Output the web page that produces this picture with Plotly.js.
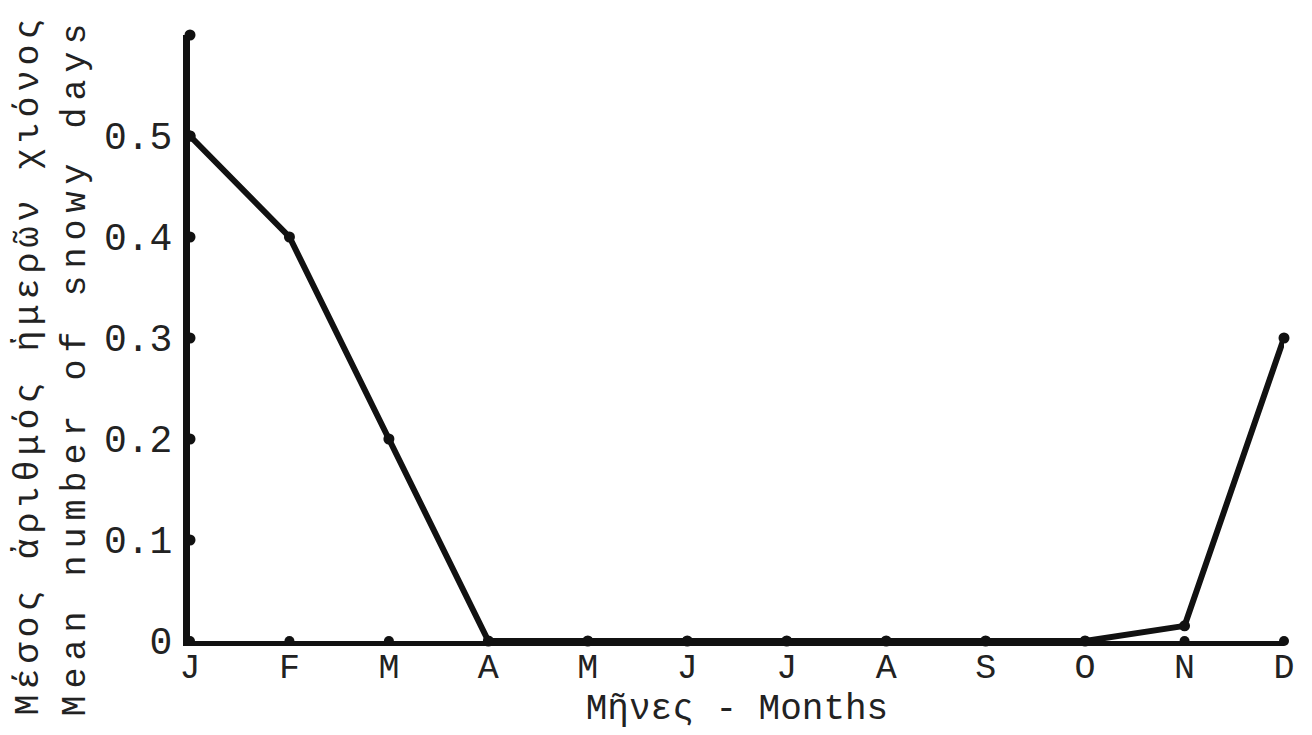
<!DOCTYPE html>
<html>
<head>
<meta charset="utf-8">
<script src="https://cdn.plot.ly/plotly-3.0.1.min.js"></script>
<style>
  html, body { margin: 0; padding: 0; background: #ffffff; }
  #chart { width: 1312px; height: 735px; }
  #chart g.annotation[data-index="0"] .annotation-text { letter-spacing: 5px; }
  #chart g.annotation[data-index="1"] .annotation-text { letter-spacing: 7px; }
</style>
</head>
<body>
<div id="chart"></div>
<script>
// Data
const months = ["J", "F", "M", "A", "M", "J", "J", "A", "S", "O", "N", "D"];
const snowyDays = [0.5, 0.4, 0.2, 0, 0, 0, 0, 0, 0, 0, 0.015, 0.3];
const yTickVals = [0, 0.1, 0.2, 0.3, 0.4, 0.5];
const yTickText = ["0", "0.1", "0.2", "0.3", "0.4", "0.5"];
const yAxisDots = [0.1, 0.2, 0.3, 0.4, 0.5, 0.6];
const xTitle = "Μῆνες - Months";
const yTitleGreek = "Μέσος ἀριθμός ἡμερῶν χιόνος";
const yTitleEnglish = "Mean number of snowy days";

const monthIdx = months.map((m, i) => i);
const FONT = "Liberation Mono, DejaVu Sans Mono, Courier New, monospace";
const INK = "#111111";
const TXT = "#222222";

const traces = [
  {
    x: yAxisDots.map(() => 0),
    y: yAxisDots,
    mode: "markers",
    marker: { color: INK, size: 11 },
    cliponaxis: false,
    hoverinfo: "skip",
    showlegend: false
  },
  {
    x: monthIdx,
    y: monthIdx.map(() => 0),
    mode: "markers",
    marker: { color: INK, size: 10 },
    cliponaxis: false,
    hoverinfo: "skip",
    showlegend: false
  },
  {
    x: monthIdx,
    y: snowyDays,
    mode: "lines+markers",
    line: { color: INK, width: 6 },
    marker: { color: INK, size: 11 },
    cliponaxis: false,
    hoverinfo: "skip",
    showlegend: false
  }
];

const layout = {
  width: 1312,
  height: 735,
  margin: { l: 190, r: 28, t: 35, b: 94 },
  paper_bgcolor: "#ffffff",
  plot_bgcolor: "#ffffff",
  showlegend: false,
  font: { family: FONT, color: INK },
  xaxis: {
    range: [0, 11],
    tickmode: "array",
    tickvals: monthIdx,
    ticktext: months,
    ticks: "",
    showgrid: false,
    zeroline: false,
    showline: true,
    linecolor: INK,
    linewidth: 5,
    tickfont: { family: FONT, size: 35, color: TXT },
    ticklabelstandoff: -10,
    automargin: false,
    title: { text: xTitle, font: { family: FONT, size: 36, color: TXT }, standoff: 0 }
  },
  yaxis: {
    range: [0, 0.6],
    tickmode: "array",
    tickvals: yTickVals,
    ticktext: yTickText,
    ticks: "",
    showgrid: false,
    zeroline: false,
    showline: true,
    linecolor: INK,
    linewidth: 7,
    tickfont: { family: FONT, size: 38, color: TXT },
    ticklabelstandoff: 3,
    automargin: false
  },
  annotations: [
    {
      text: yTitleGreek,
      xref: "paper", yref: "paper",
      x: (29 - 190) / 1094, y: (641 - 365) / 606,
      xanchor: "center", yanchor: "middle",
      textangle: -90,
      showarrow: false,
      font: { family: FONT, size: 35, color: TXT }
    },
    {
      text: yTitleEnglish,
      xref: "paper", yref: "paper",
      x: (76 - 190) / 1094, y: (641 - 367) / 606,
      xanchor: "center", yanchor: "middle",
      textangle: -90,
      showarrow: false,
      font: { family: FONT, size: 35, color: TXT }
    }
  ]
};

Plotly.newPlot("chart", traces, layout, { displayModeBar: false, staticPlot: true });
</script>
</body>
</html>
